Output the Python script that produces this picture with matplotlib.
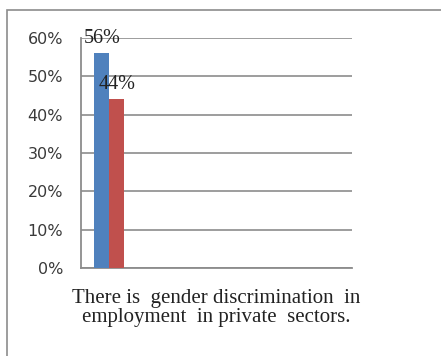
import matplotlib
matplotlib.use("Agg")
import matplotlib.pyplot as plt
from matplotlib.patches import Rectangle

category = "There is  gender discrimination  in\nemployment  in private  sectors."
series_values = [0.56, 0.44]
series_labels = ["56%", "44%"]
series_colors = ["#4F81BD", "#C0504D"]
y_ticks = [0.0, 0.1, 0.2, 0.3, 0.4, 0.5, 0.6]
y_tick_labels = ["0%", "10%", "20%", "30%", "40%", "50%", "60%"]

W, H = 441, 356
fig = plt.figure(figsize=(W / 100, H / 100), dpi=100)

# outer frame around the chart area
fig.patches.append(Rectangle((7 / W, -0.05), 1.0, 1 - 10 / H + 0.05,
                             transform=fig.transFigure, fill=False,
                             edgecolor="#8c8c8c", linewidth=1.2))

ax = fig.add_axes([81 / W, (H - 268) / H, (352 - 81) / W, (268 - 38) / H])

bar_w = 1.0
offsets = [-0.5, 0.5]
for v, c, off in zip(series_values, series_colors, offsets):
    ax.bar(0 + off, v, width=bar_w, color=c, zorder=3)

ax.set_ylim(0, 0.6)
ax.set_xlim(-1.9, 16.17)
ax.set_yticks(y_ticks)
ax.set_yticklabels(y_tick_labels, fontsize=11.5, color="#3a3a3a",
                   family="DejaVu Sans")
ax.tick_params(axis="y", length=0, pad=13)
ax.set_xticks([])
ax.yaxis.grid(True, color="#8c8c8c", linewidth=1.2, zorder=0)

for side in ["top", "right"]:
    ax.spines[side].set_visible(False)
for side in ["left", "bottom"]:
    ax.spines[side].set_color("#8c8c8c")
    ax.spines[side].set_linewidth(1.3)

# data labels above the bars
for v, lab, off in zip(series_values, series_labels, offsets):
    ax.annotate(lab, xy=(off, v), xytext=(0, 11), textcoords="offset points",
                ha="center", va="center", fontsize=14.5,
                family="Liberation Serif", color="#222222")

ax.set_xlabel(category, fontsize=15, family="Liberation Serif",
              color="#222222", labelpad=15, linespacing=1.02)

fig.savefig("out.png", dpi=100)
